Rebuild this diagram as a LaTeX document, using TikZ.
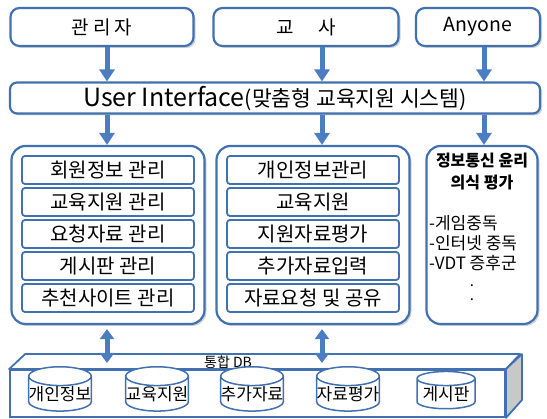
\documentclass[tikz,border=0pt]{standalone}
\usepackage{fontspec}
\setmainfont{Noto Sans CJK KR}
\usetikzlibrary{shapes.geometric,shadows,arrows.meta}
\definecolor{bblue}{RGB}{65,113,176}
\definecolor{ablue}{RGB}{74,126,192}
\definecolor{sidegray}{RGB}{200,200,200}
\begin{document}
\begin{tikzpicture}[x=1pt,y=-1pt,
 outerbox/.style={draw=bblue, line width=2.2pt, rounded corners=9pt, fill=white,
   drop shadow={opacity=0.35,shadow xshift=2pt,shadow yshift=-2pt}, inner sep=0pt},
 innerbox/.style={draw=bblue, line width=1.8pt, rounded corners=3pt, fill=white,
   minimum width=172pt, minimum height=28pt, inner sep=0pt, font=\fontsize{20}{22}\selectfont},
 arr/.style={draw=ablue, line width=5pt, -{Triangle[width=15pt,length=12pt]}},
 darr/.style={draw=ablue, line width=5pt, {Triangle[width=14pt,length=10pt]}-{Triangle[width=14pt,length=10pt]}},
 cyl/.style={cylinder, shape border rotate=90, aspect=0.3, draw=bblue, line width=1.5pt, fill=white,
   minimum width=58pt, minimum height=30pt, inner sep=0pt, font=\fontsize{17}{18}\selectfont}
]
\useasboundingbox (0,0) rectangle (547,419);

% top actors
\node[outerbox, minimum width=183pt, minimum height=38pt, font=\fontsize{19}{22}\selectfont] (adm) at (102,27) {관 리 자};
\node[outerbox, minimum width=185pt, minimum height=38pt, font=\fontsize{19}{22}\selectfont] (tch) at (306,27) {교\hspace{1.3em}사};
\node[outerbox, minimum width=124pt, minimum height=38pt, font=\fontsize{19.5}{22}\selectfont] (any) at (478,27) {Anyone};

% user interface
\node[outerbox, rounded corners=7pt, minimum width=530pt, minimum height=31pt] (ui) at (275,98)
  {\fontsize{25}{26}\selectfont User Interface\fontsize{21.5}{26}\selectfont(맞춤형 교육지원 시스템)};

% column anchors
\coordinate (c1) at (107,0);
\coordinate (c2) at (322,0);
\coordinate (c3) at (484,0);

% big boxes
\node[outerbox, rounded corners=14pt, minimum width=193pt, minimum height=178pt] (L) at (108,235) {};
\node[outerbox, rounded corners=14pt, minimum width=193pt, minimum height=178pt] (M) at (313,235) {};
\node[outerbox, rounded corners=14pt, minimum width=111pt, minimum height=178pt] (R) at (482,235) {};

% arrows
\draw[arr] (adm.south -| c1) -- (ui.north -| c1);
\draw[arr] (tch.south -| c2) -- (ui.north -| c2);
\draw[arr] (any.south -| c3) -- (ui.north -| c3);
\draw[arr] (ui.south -| c1) -- (L.north -| c1);
\draw[arr] (ui.south -| c2) -- (M.north -| c2);
\draw[arr] (ui.south -| c3) -- (R.north -| c3);

% left column
\node[innerbox] (l1) at (108,170) {회원정보 관리};
\node[innerbox] (l2) at (108,202) {교육지원 관리};
\node[innerbox] (l3) at (108,234) {요청자료 관리};
\node[innerbox] (l4) at (108,266) {게시판 관리};
\node[innerbox] (l5) at (108,298) {추천사이트 관리};

% middle column
\node[innerbox] (m1) at (313,170) {개인정보관리};
\node[innerbox] (m2) at (313,202) {교육지원};
\node[innerbox] (m3) at (313,234) {지원자료평가};
\node[innerbox] (m4) at (313,266) {추가자료입력};
\node[innerbox] (m5) at (313,298) {자료요청 및 공유};

% right column
\node[font=\fontsize{16}{22}\selectfont\bfseries, align=center] (rt) at (482,172) {정보통신 윤리\\의식 평가};
\node[font=\fontsize{17}{20}\selectfont, align=left, anchor=north west, inner sep=0pt] (rl) at (429,215)
  {-게임중독\\-인터넷 중독\\-VDT 증후군};
\node[font=\fontsize{15}{14}\selectfont, align=center, inner sep=0pt] (rd) at (472,293) {.\\.};

% DB box
\node[draw=bblue, line width=1.8pt, fill=white, minimum width=495pt, minimum height=47pt, inner sep=0pt] (dbf) at (257.5,393.5) {};
\draw[bblue, line width=1.8pt, fill=white, line join=round]
  (dbf.north west) -- ++(16,-15) -- ++(495,0) -- (dbf.north east) -- cycle;
\draw[bblue, line width=1.8pt, fill=sidegray, line join=round]
  (dbf.north east) -- ++(16,-15) -- ++(0,46) -- (dbf.south east) -- cycle;
\node[font=\fontsize{14}{15}\selectfont, inner sep=0pt] (dblabel) at (228,362) {통합 DB};

\coordinate (d1) at (107,363);
\coordinate (d2) at (322,363);
\draw[darr] (L.south -| d1) ++(0,4) -- (d1);
\draw[darr] (M.south -| d2) ++(0,4) -- (d2);

% cylinders
\node[cyl] (db1) at (60,394) {개인정보};
\node[cyl] (db2) at (157,394) {교육지원};
\node[cyl] (db3) at (252,394) {추가자료};
\node[cyl] (db4) at (348,394) {자료평가};
\node[cyl] (db5) at (446,394) {게시판};
\end{tikzpicture}
\end{document}
